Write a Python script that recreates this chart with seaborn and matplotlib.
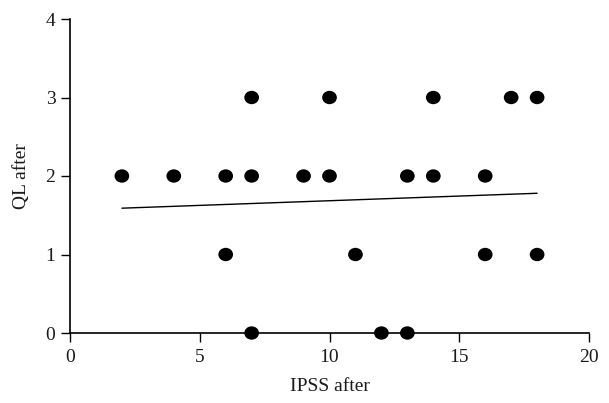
import numpy as np
import pandas as pd
import seaborn as sns
import matplotlib.pyplot as plt
from matplotlib.path import Path
from matplotlib.transforms import Affine2D

# data
ipss_after = [2, 4, 6, 6, 7, 7, 7, 9, 10, 10, 11, 12, 13, 13, 14, 14, 16, 16, 17, 18, 18]
ql_after = [2, 2, 2, 1, 3, 2, 0, 2, 3, 2, 1, 0, 2, 0, 3, 2, 2, 1, 3, 3, 1]

# fitted line ends
fit_x = [2, 18]
fit_y = [1.59, 1.78]

df = pd.DataFrame({"IPSS after": ipss_after, "QL after": ql_after})
fit = pd.DataFrame({"x": fit_x, "y": fit_y})

sns.set_style("ticks")
plt.rcParams["font.family"] = ["Liberation Serif", "DejaVu Serif"]
plt.rcParams["font.size"] = 14

# slightly wide dots
dot = Path.unit_circle().transformed(Affine2D().scale(1.1, 1.0))

fig = plt.figure(figsize=(6.09, 4.03), dpi=100)
ax = fig.add_axes([70 / 609, 70 / 403, 519 / 609, 314 / 403])

sns.scatterplot(data=df, x="IPSS after", y="QL after", marker=dot, s=112,
                color="black", edgecolor="none", ax=ax, zorder=3, clip_on=False)
sns.lineplot(data=fit, x="x", y="y", color="black", linewidth=1.0, ax=ax)

ax.set_xlim(0, 20)
ax.set_ylim(0, 4)
ax.set_xticks([0, 5, 10, 15, 20])
ax.set_yticks([0, 1, 2, 3, 4])
sns.despine(ax=ax)
for sp in ["left", "bottom"]:
    ax.spines[sp].set_color("black")
    ax.spines[sp].set_linewidth(1.2)
ax.tick_params(axis="both", length=6.5, width=1.0, color="black",
               labelsize=14, labelcolor="#1a1a1a")
ax.tick_params(axis="x", pad=5)
ax.tick_params(axis="y", pad=4)
ax.set_xlabel("IPSS after", fontsize=14, color="#1a1a1a", labelpad=9)
ax.set_ylabel("QL after", fontsize=14, color="#1a1a1a", labelpad=11)

fig.savefig("out.png", dpi=100)
